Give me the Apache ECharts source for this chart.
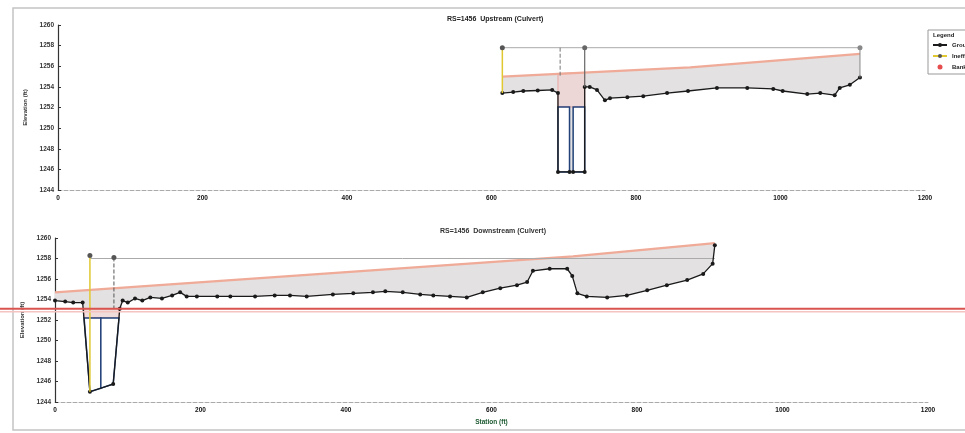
<!DOCTYPE html>
<html>
<head>
<meta charset="utf-8">
<script src="https://cdn.jsdelivr.net/npm/echarts@6/dist/echarts.min.js"></script>
<style>
  html, body { margin: 0; padding: 0; background: #fff; }
  #chart { width: 965px; height: 433px; }
</style>
</head>
<body>
<div id="chart"></div>
<script>
// x ticks / y ticks
var stationTicks = [0, 200, 400, 600, 800, 1000, 1200];
var elevTicks = [1244, 1246, 1248, 1250, 1252, 1254, 1256, 1258, 1260];

// upstream section (station, elevation)
var upGround = [
  [615, 1253.4], [630, 1253.5], [644, 1253.6], [664, 1253.65], [684, 1253.7],
  [692, 1253.4], [692, 1245.75], [708, 1245.75], [713, 1245.75], [729, 1245.75],
  [729, 1254.0], [736, 1254.0], [746, 1253.7], [757, 1252.7], [764, 1252.9],
  [788, 1253.0], [810, 1253.1], [843, 1253.4], [872, 1253.6], [912, 1253.9],
  [954, 1253.9], [990, 1253.8], [1003, 1253.6], [1037, 1253.3], [1055, 1253.4],
  [1075, 1253.2], [1082, 1253.9], [1096, 1254.2], [1110, 1254.9]
];
var upRoad = [[615, 1255.0], [875, 1255.9], [1110, 1257.2]];
var upHigh = [[615, 1257.8], [1110, 1257.8]];
var upIneff = [[615, 1257.8], [615, 1253.4]];
var upMidMark = [[695, 1257.8], [695, 1255.0]];
var upRightMark = [[729, 1257.8], [729, 1254.0]];
var upEnd = [[1110, 1257.8], [1110, 1254.9]];
var upBarrels = [
  [[692, 1252.05], [708, 1252.05], [708, 1245.75], [692, 1245.75]],
  [[713, 1252.05], [729, 1252.05], [729, 1245.75], [713, 1245.75]]
];
var upDeck = [[[692, 1255.3], [729, 1255.4], [729, 1252.05], [692, 1252.05]]];

// downstream section
var dnGround = [
  [0, 1253.9], [14, 1253.8], [25, 1253.7], [38, 1253.7], [48, 1245.0],
  [80, 1245.75], [89, 1253.1], [93, 1253.9], [100, 1253.7], [110, 1254.1],
  [120, 1253.9], [131, 1254.2], [147, 1254.1], [161, 1254.4], [172, 1254.7],
  [181, 1254.3], [195, 1254.3], [223, 1254.3], [241, 1254.3], [275, 1254.3],
  [302, 1254.4], [323, 1254.4], [346, 1254.3], [382, 1254.5], [410, 1254.6],
  [437, 1254.7], [454, 1254.8], [478, 1254.7], [502, 1254.5], [520, 1254.4],
  [543, 1254.3], [566, 1254.2], [588, 1254.7], [612, 1255.1], [635, 1255.4],
  [649, 1255.7], [657, 1256.8], [680, 1257.0], [704, 1257.0], [711, 1256.3],
  [718, 1254.6], [731, 1254.3], [759, 1254.2], [786, 1254.4], [814, 1254.9],
  [841, 1255.4], [869, 1255.9], [891, 1256.5], [904, 1257.5], [907, 1259.3]
];
var dnRoad = [[0, 1254.7], [712, 1258.2], [907, 1259.5]];
var dnHigh = [[48, 1258.0], [907, 1258.0]];
var dnIneff = [[48, 1258.3], [48, 1245.0]];
var dnMidMark = [[81, 1258.1], [81, 1253.1]];
var dnBarrels = [
  [[40, 1252.2], [63, 1252.2], [63, 1245.35], [48, 1245.0]],
  [[63, 1252.2], [88, 1252.2], [80, 1245.75], [63, 1245.35]]
];
var dnDeck = [[[40, 1253.1], [88, 1253.1], [88, 1252.2], [40, 1252.2]]];
var scanLineElev = 1253.1;

var labelFont = { fontSize: 6.5, fontWeight: 'bold', color: '#111', fontFamily: 'Liberation Sans' };

function xAxisFor(idx, withName) {
  return {
    type: 'value', gridIndex: idx, min: 0, max: 1200, interval: 200,
    axisLine: { lineStyle: { color: '#aaa', type: 'dashed', width: 1 } },
    axisTick: { show: false },
    splitLine: { show: false },
    axisLabel: Object.assign({ margin: 5, formatter: function (v) { return String(v); } }, labelFont),
    name: withName ? 'Station (ft)' : '',
    nameLocation: 'middle', nameGap: 17,
    nameTextStyle: { fontSize: 6.5, fontWeight: 'bold', color: '#1d5a32' }
  };
}
function yAxisFor(idx) {
  return {
    type: 'value', gridIndex: idx, min: 1244, max: 1260, interval: 2,
    axisLine: { show: true, lineStyle: { color: '#333', width: 1.2 } },
    axisTick: { show: true, length: 3, inside: true, lineStyle: { color: '#333' } },
    splitLine: { show: false },
    axisLabel: Object.assign({ margin: 4, formatter: function (v) { return String(v); } }, labelFont, { color: '#333' }),
    name: 'Elevation (ft)', nameLocation: 'middle', nameGap: 30, nameRotate: 90,
    nameTextStyle: { fontSize: 6, fontWeight: 'bold', color: '#333' }
  };
}

function polySeries(idx, polys, fill, stroke, width, z) {
  return {
    type: 'custom', xAxisIndex: idx, yAxisIndex: idx, silent: true, z: z,
    data: polys.map(function (p) { return p[0]; }),
    renderItem: function (params, api) {
      return {
        type: 'polygon',
        shape: { points: polys[params.dataIndex].map(function (pt) { return api.coord(pt); }) },
        style: { fill: fill, stroke: stroke, lineWidth: width }
      };
    }
  };
}
function lineSeries(idx, name, data, color, width, opts) {
  return Object.assign({
    type: 'line', name: name, xAxisIndex: idx, yAxisIndex: idx, data: data,
    symbol: 'none', silent: true, animation: false,
    lineStyle: { color: color, width: width }, itemStyle: { color: color }
  }, opts || {});
}
function markTop(data) {
  return data.map(function (d, i) { return { value: d, symbolSize: i === 0 ? 5 : 0 }; });
}

var upFill = upRoad.concat(upGround.slice().reverse());
var dnFill = dnRoad.concat(dnGround.slice().reverse());

var chart = echarts.init(document.getElementById('chart'), null, { renderer: 'canvas' });
var frame = [
  { type: 'rect', shape: { x: 13, y: 8, width: 1000, height: 422 },
    style: { fill: 'none', stroke: '#c4c4c4', lineWidth: 1.5 }, silent: true, z: -1 },
  { type: 'text', left: 933, top: 32, style: { text: 'Legend', fontSize: 6, fontWeight: 'bold', fill: '#222' } }
];
var option = {
  animation: false,
  backgroundColor: '#fff',
  title: [
    { text: 'RS=1456  Upstream (Culvert)', left: 442, top: 11,
      textStyle: { fontSize: 7, fontWeight: 'bold', color: '#222' } },
    { text: 'RS=1456  Downstream (Culvert)', left: 435, top: 223,
      textStyle: { fontSize: 7, fontWeight: 'bold', color: '#333' } }
  ],
  legend: {
    orient: 'vertical', left: 928, top: 30, data: ['Ground', 'Ineff', 'Bank Sta'],
    itemWidth: 14, itemHeight: 5, itemGap: 5, padding: [12, 4, 4, 4],
    borderColor: '#999', borderWidth: 1,
    textStyle: { fontSize: 6, fontWeight: 'bold', color: '#222' }
  },
  grid: [
    { left: 58, width: 867, top: 25, height: 165 },
    { left: 55, width: 873, top: 238, height: 164 }
  ],
  xAxis: [xAxisFor(0, false), xAxisFor(1, true)],
  yAxis: [yAxisFor(0), yAxisFor(1)],
  graphic: frame,
  series: [
    // upstream
    polySeries(0, [upFill], '#e3e1e1', 'none', 0, 1),
    polySeries(0, upDeck, '#ecd6d6', '#e6a9a4', 1, 2),
    polySeries(0, upBarrels, '#ffffff', '#23427a', 1.5, 3),
    lineSeries(0, 'Road', upRoad, '#f0aa98', 2.2, { z: 2 }),
    lineSeries(0, 'High', upHigh, '#aaaaaa', 1, { z: 2 }),
    lineSeries(0, 'Ground', upGround, '#1a1a1a', 1.3, { symbol: 'circle', symbolSize: 4, z: 4 }),
    lineSeries(0, 'Ineff', markTop(upIneff), '#e0c832', 1.5, { symbol: 'circle', z: 5, itemStyle: { color: '#555' } }),
    lineSeries(0, 'Mark', upMidMark, '#777', 1, { z: 5, lineStyle: { color: '#777', width: 1, type: 'dashed' } }),
    lineSeries(0, 'Mark', markTop(upRightMark), '#666', 1.2, { symbol: 'circle', z: 5 }),
    lineSeries(0, 'Mark', markTop(upEnd), '#888', 1, { symbol: 'circle', z: 5 }),
    // downstream
    polySeries(1, [dnFill], '#e3e1e1', 'none', 0, 1),
    polySeries(1, dnDeck, '#f1dcdc', '#e8a8a8', 1, 2),
    polySeries(1, dnBarrels, '#ffffff', '#23427a', 1.5, 3),
    lineSeries(1, 'Road', dnRoad, '#f0aa98', 2.2, { z: 2 }),
    lineSeries(1, 'High', dnHigh, '#aaaaaa', 1, { z: 2 }),
    lineSeries(1, 'Ground', dnGround, '#1a1a1a', 1.3, { symbol: 'circle', symbolSize: 4, z: 4 }),
    lineSeries(1, 'Ineff', markTop(dnIneff), '#e0c832', 1.5, { symbol: 'circle', z: 5, itemStyle: { color: '#555' } }),
    lineSeries(1, 'Mark', markTop(dnMidMark), '#555', 1, { symbol: 'circle', z: 5, lineStyle: { color: '#555', width: 1, type: 'dashed' } }),
    { type: 'scatter', name: 'Bank Sta', xAxisIndex: 1, yAxisIndex: 1, data: [],
      symbolSize: 4, itemStyle: { color: '#e02020' } }
  ]
};
chart.setOption(option);

// red scan mark across the lower section
var py = chart.convertToPixel({ gridIndex: 1 }, [0, scanLineElev])[1];
chart.setOption({
  graphic: frame.concat([
    { type: 'line', shape: { x1: 0, y1: py, x2: 965, y2: py },
      style: { stroke: '#d9534f', lineWidth: 2 }, z: 100, silent: true },
    { type: 'line', shape: { x1: 0, y1: py + 3, x2: 965, y2: py + 3 },
      style: { stroke: '#f3c4c0', lineWidth: 1.5 }, z: 100, silent: true }
  ])
});
</script>
</body>
</html>
